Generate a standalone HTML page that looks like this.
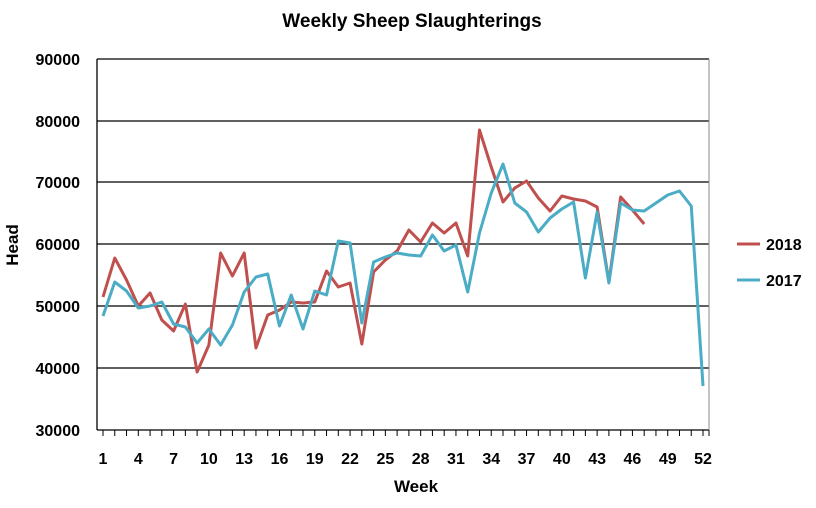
<!DOCTYPE html><html><head><style>body{margin:0;background:#fff}</style></head><body>
<svg width="816" height="503" xmlns="http://www.w3.org/2000/svg" font-family="Liberation Sans, sans-serif" font-weight="bold">
<text x="412" y="27" font-size="19" text-anchor="middle">Weekly Sheep Slaughterings</text>
<g stroke="#000" stroke-width="1.3">
<line x1="97" y1="59" x2="709" y2="59"/><line x1="97" y1="121" x2="709" y2="121"/><line x1="97" y1="182" x2="709" y2="182"/><line x1="97" y1="244" x2="709" y2="244"/><line x1="97" y1="306" x2="709" y2="306"/><line x1="97" y1="368" x2="709" y2="368"/><line x1="97" y1="430" x2="709" y2="430"/>
<line x1="97" y1="59" x2="97" y2="430"/>
</g>
<line x1="709" y1="59" x2="709" y2="430" stroke="#888" stroke-width="1"/>
<g id="ticks" stroke="#000" stroke-width="1"></g>
<g font-size="16" text-anchor="end">
<text x="80" y="65">90000</text><text x="80" y="127">80000</text><text x="80" y="188">70000</text><text x="80" y="250">60000</text><text x="80" y="312">50000</text><text x="80" y="374">40000</text><text x="80" y="436">30000</text>
</g>
<g font-size="16" text-anchor="middle" id="xl"></g>
<text x="416" y="492" font-size="17" text-anchor="middle">Week</text>
<text transform="translate(18,245) rotate(-90)" font-size="17" text-anchor="middle">Head</text>
<polyline id="r" fill="none" stroke="#c0504d" stroke-width="3" stroke-linejoin="round"/>
<polyline id="c" fill="none" stroke="#4bacc6" stroke-width="3" stroke-linejoin="round"/>
<line x1="737" y1="244" x2="760" y2="244" stroke="#c0504d" stroke-width="3"/>
<line x1="737" y1="280" x2="760" y2="280" stroke="#4bacc6" stroke-width="3"/>
<text x="766" y="250" font-size="16">2018</text>
<text x="766" y="286" font-size="16">2017</text>
</svg>
<script>
var r=[297,258,280,306,293,320,331,304,372,345,253,276,253,348,315,310,302,303,302,271,287,283,344,272,260,251,230,242,223,233,223,256,130,167,202,188,181,198,211,196,199,201,207,282,197,210,224];
var c=[316,282,291,308,306,302,324,327,343,329,345,325,292,277,274,326,295,329,291,295,241,243,323,262,257,253,255,256,235,251,245,292,233,193,164,203,212,232,218,209,202,278,212,283,203,210,211,203,195,191,206,386];
function X(i){return 103+i*11.765}
document.getElementById('r').setAttribute('points',r.map((y,i)=>X(i)+','+y).join(' '));
document.getElementById('c').setAttribute('points',c.map((y,i)=>X(i)+','+y).join(' '));
var t='',l='';for(var i=0;i<52;i++){t+='<line x1="'+X(i)+'" y1="430" x2="'+X(i)+'" y2="436"/>';if(i%3==0)l+='<text x="'+X(i)+'" y="464">'+(i+1)+'</text>';}
t+='<line x1="'+(X(51)+6)+'" y1="430" x2="'+(X(51)+6)+'" y2="436"/>';
document.getElementById('ticks').innerHTML=t;document.getElementById('xl').innerHTML=l;
</script>
</body></html>
